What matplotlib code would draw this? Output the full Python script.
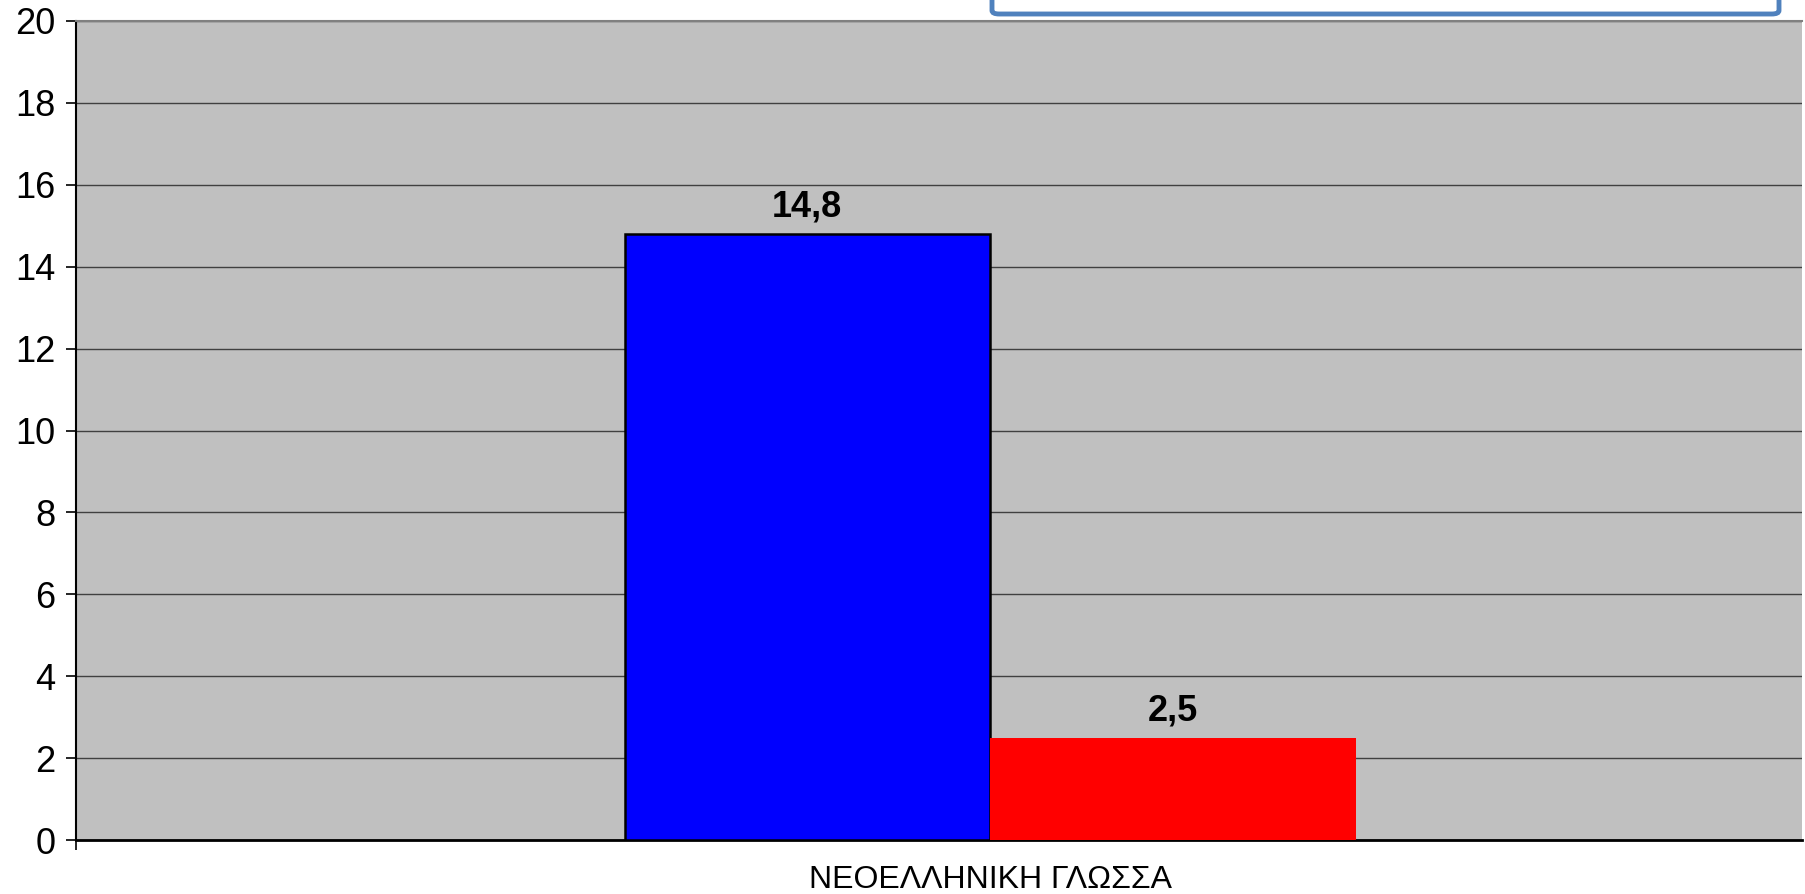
import matplotlib.pyplot as plt
from matplotlib.patches import FancyBboxPatch

# data
category = "ΝΕΟΕΛΛΗΝΙΚΗ ΓΛΩΣΣΑ"
values = [14.8, 2.5]
labels = ["14,8", "2,5"]
colors = ["#0000FF", "#FF0000"]
edges = ["black", "none"]
offsets = [-0.1, 0.1]
yticks = list(range(0, 21, 2))

plt.rcParams['font.family'] = ['Liberation Sans', 'DejaVu Sans']

fig = plt.figure(figsize=(18.05, 8.94), dpi=100)
ax = fig.add_axes([76 / 1805, 1 - 840 / 894, (1802 - 76) / 1805, (840 - 21) / 894])
ax.set_facecolor("#C0C0C0")

for v, lab, c, e, off in zip(values, labels, colors, edges, offsets):
    ax.bar(off, v, width=0.2, color=c, edgecolor=e, linewidth=1.8, zorder=3)
    ax.annotate(lab, (off, v), xytext=(0, 27), textcoords="offset pixels",
                ha="center", va="center", fontsize=26, fontweight="bold", zorder=4)

ax.set_ylim(0, 20)
ax.set_xlim(-0.5, 0.444)
ax.set_yticks(yticks)
ax.set_yticklabels([str(t) for t in yticks], fontsize=26)
ax.tick_params(axis="y", length=7, width=1.2, pad=8, color="black")
ax.grid(axis="y", color="#404040", linewidth=1.0, zorder=1)

# category axis: boundary tick at left, label at the category centre
ax.set_xticks([-0.5])
ax.set_xticklabels([""])
ax.tick_params(axis="x", length=7, width=1.2, color="black")
ax.text(0, -40 / 819, category, transform=ax.get_xaxis_transform(),
        ha="center", va="center", fontsize=23)

ax.spines["left"].set_color("black")
ax.spines["left"].set_linewidth(1.5)
ax.spines["bottom"].set_color("black")
ax.spines["bottom"].set_linewidth(2.0)
ax.spines["top"].set_color("#808080")
ax.spines["top"].set_linewidth(1.5)
ax.spines["right"].set_visible(False)

# partly visible title box at the top
box = FancyBboxPatch((992 / 1805, 1 - 14 / 894), (1779 - 992) / 1805, 0.1,
                     boxstyle="round,pad=0,rounding_size=0.004",
                     transform=fig.transFigure, facecolor="white",
                     edgecolor="#4F81BD", linewidth=3.5, clip_on=False)
fig.patches.append(box)

fig.savefig("out.png", dpi=100)
